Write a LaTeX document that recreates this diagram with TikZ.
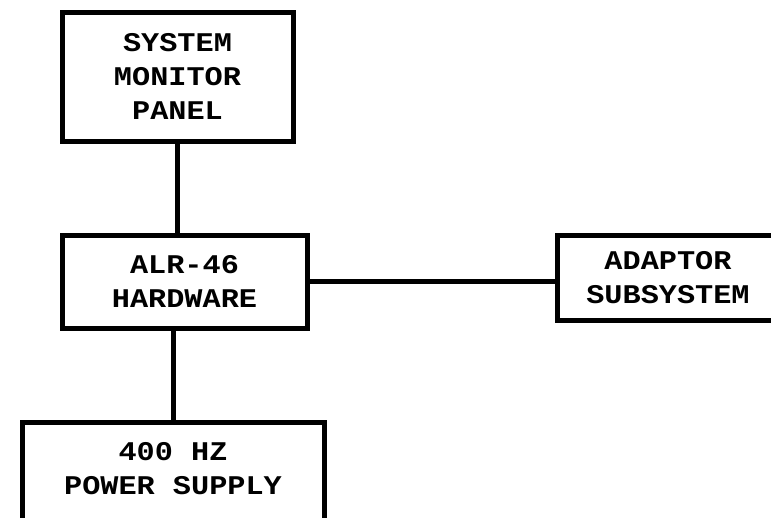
\documentclass[tikz,border=0pt]{standalone}
\usepackage{fontspec}
\newfontfamily\boxfont[FakeStretch=1.12]{Liberation Mono}
\begin{document}
\begin{tikzpicture}[x=1pt,y=-1pt, every node/.style={font=\boxfont\bfseries\fontsize{27}{34}\selectfont},
        unit/.style={draw, line width=5pt, align=center, inner sep=0pt},
        wire/.style={line width=5pt}]
    \useasboundingbox (0,0) rectangle (771,517);
    \clip (0,0) rectangle (771,517);
    \node[unit, minimum width=231pt, minimum height=129pt] (smp) at (177.5,76.5) {SYSTEM\\MONITOR\\PANEL};
    \node[unit, minimum width=245pt, minimum height=93pt] (alr) at (184.5,281.5) {ALR-46\\HARDWARE};
    \node[unit, minimum width=222pt, minimum height=85pt] (adaptor) at (668,277.5) {ADAPTOR\\SUBSYSTEM};
    \node[unit, minimum width=302pt, minimum height=114pt, text depth=22pt] (power) at (173,479) {400 HZ\\POWER SUPPLY};
    % connections
    \draw[wire] (smp.south) -- (smp.south |- alr.north);
    \draw[wire] (alr.east) -- (alr.east -| adaptor.west);
    \draw[wire] (power.north) -- (power.north |- alr.south);
\end{tikzpicture}
\end{document}
